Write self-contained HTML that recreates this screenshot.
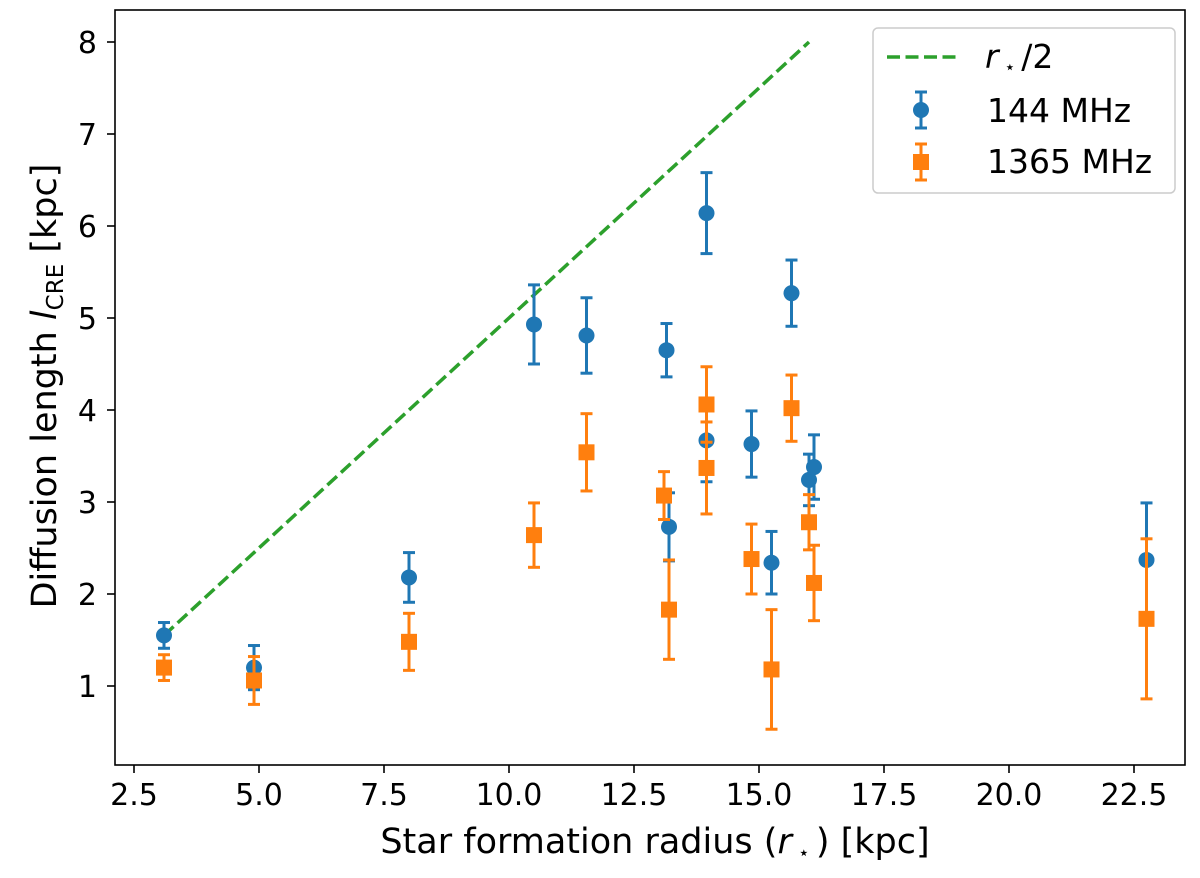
<!DOCTYPE html>
<html><head><meta charset="utf-8"><style>
body{margin:0;background:#fff;font-family:"DejaVu Sans","Liberation Sans",sans-serif;}
svg text{font-family:"DejaVu Sans","Liberation Sans",sans-serif;}
</style></head><body>
<svg id="chart" width="1200" height="874" xmlns="http://www.w3.org/2000/svg">
<g id="g"></g>
</svg>
<script>
const xTicks=[2.5,5.0,7.5,10.0,12.5,15.0,17.5,20.0,22.5];
const yTicks=[1,2,3,4,5,6,7,8];
const blueX=[3.1,4.9,8.0,10.5,11.55,13.15,13.2,13.95,13.95,14.85,15.25,15.65,16.0,16.1,22.75];
const blueY=[1.55,1.2,2.18,4.93,4.81,4.65,2.73,6.14,3.67,3.63,2.34,5.27,3.24,3.38,2.37];
const blueErr=[0.14,0.24,0.27,0.43,0.41,0.29,0.37,0.44,0.45,0.36,0.34,0.36,0.28,0.35,0.62];
const orangeX=[3.1,4.9,8.0,10.5,11.55,13.1,13.2,13.95,13.95,14.85,15.25,15.65,16.0,16.1,22.75];
const orangeY=[1.2,1.06,1.48,2.64,3.54,3.07,1.83,4.06,3.37,2.38,1.18,4.02,2.78,2.12,1.73];
const orangeErr=[0.14,0.26,0.31,0.35,0.42,0.26,0.54,0.41,0.5,0.38,0.65,0.36,0.3,0.41,0.87];
const lineX=[3.1,16.0];

const X=v=>134+(v-2.5)*50;
const Y=v=>686-(v-1)*92;
const g=document.getElementById('g');
const NS='http://www.w3.org/2000/svg';
function mk(t,a,txt){const e=document.createElementNS(NS,t);for(const k in a)e.setAttribute(k,a[k]);if(txt!==undefined)e.textContent=txt;g.appendChild(e);return e;}

let e=mk('rect',{x:115,y:10,width:1070,height:755,fill:'none',stroke:'#000','stroke-width':1.6});


xTicks.forEach(t=>{
 let l=mk('line',{x1:X(t),x2:X(t),y1:765,y2:773,stroke:'#000','stroke-width':1.6});
 
 let s=mk('text',{x:X(t),y:805,'font-size':30,'text-anchor':'middle'},t.toFixed(1));
 
});
yTicks.forEach(t=>{
 let l=mk('line',{x1:107,x2:115,y1:Y(t),y2:Y(t),stroke:'#000','stroke-width':1.6});
 
 let s=mk('text',{x:97,y:Y(t)+11,'font-size':30,'text-anchor':'end'},String(t));
 
});
let xt=mk('text',{x:655,y:853,'font-size':35,'text-anchor':'middle'});
xt.innerHTML='Star formation radius (<tspan font-style="italic">r</tspan><tspan font-size="19" dy="6"> ⋆ </tspan><tspan dy="-6">) [kpc]</tspan>';

let yt=mk('text',{x:0,y:0,'font-size':35,'text-anchor':'middle',transform:'translate(56,386) rotate(-90)'});
yt.innerHTML='Diffusion length <tspan font-style="italic">l</tspan><tspan font-size="23" dy="7">CRE</tspan><tspan dy="-7"> [kpc]</tspan>';


let ln=mk('line',{x1:X(lineX[0]),y1:Y(lineX[0]/2),x2:X(lineX[1]),y2:Y(lineX[1]/2),stroke:'#2ca02c','stroke-width':3.5,'stroke-dasharray':'13,5.5'});


function series(xs,ys,er,col,sq,name){
 xs.forEach((x,i)=>{
  const cx=X(x),cy=Y(ys[i]),t=Y(ys[i]+er[i]),b=Y(ys[i]-er[i]);
  let v=mk('line',{x1:cx,x2:cx,y1:t,y2:b,stroke:col,'stroke-width':3});
  
  [t,b].forEach(yy=>{let c=mk('line',{x1:cx-6,x2:cx+6,y1:yy,y2:yy,stroke:col,'stroke-width':3});
   });
  let m=sq?mk('rect',{x:cx-8,y:cy-8,width:16,height:16,fill:col}):mk('circle',{cx:cx,cy:cy,r:8,fill:col});
  
 });
}
series(blueX,blueY,blueErr,'#1f77b4',false,'144mhz');
series(orangeX,orangeY,orangeErr,'#ff7f0e',true,'1365mhz');

let lb=mk('rect',{x:873,y:28,width:302,height:165,rx:5,fill:'#fff','fill-opacity':0.8,stroke:'#ccc','stroke-width':1.5});

let l1=mk('line',{x1:887,x2:957,y1:57,y2:57,stroke:'#2ca02c','stroke-width':3.5,'stroke-dasharray':'13,5.5'});

let t1=mk('text',{x:985,y:68,'font-size':33});
t1.innerHTML='<tspan font-style="italic">r</tspan><tspan font-size="18" dy="5"> ⋆ </tspan><tspan dy="-5">/2</tspan>';

[[110,122,'#1f77b4',false,'144 MHz'],[162,173,'#ff7f0e',true,'1365 MHz']].forEach(([yy,by,c,sq,lab])=>{
 let a=mk('line',{x1:921,x2:921,y1:yy-18,y2:yy+18,stroke:c,'stroke-width':3});
 [yy-18,yy+18].forEach(q=>{let cp=mk('line',{x1:915,x2:927,y1:q,y2:q,stroke:c,'stroke-width':3});});
 let m=sq?mk('rect',{x:913,y:yy-8,width:16,height:16,fill:c}):mk('circle',{cx:921,cy:yy,r:8,fill:c});
 
 let tx=mk('text',{x:987,y:by,'font-size':33},lab);
 
});
</script>
</body></html>
